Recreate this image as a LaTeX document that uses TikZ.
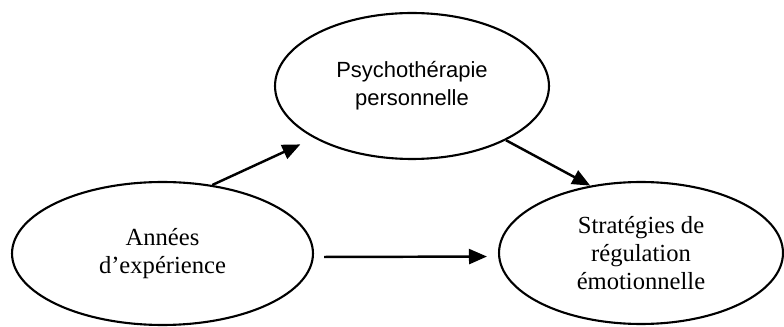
\documentclass[tikz,border=0pt]{standalone}
\usepackage{fontspec}
\setmainfont{Liberation Serif}
\newfontfamily\psyfont{Liberation Sans}
\usetikzlibrary{shapes.geometric,arrows.meta}
\begin{document}
\begin{tikzpicture}[x=0.02cm,y=-0.02cm,
    var/.style={ellipse,draw,line width=1.2pt,inner sep=0pt,align=center,
      font=\fontsize{14}{16}\selectfont},
    link/.style={line width=1.4pt,-{Triangle[length=0.36cm,width=0.3cm]}}]
  \useasboundingbox (0,0) rectangle (784,327);
  % variables
  \node[var,minimum width=6.02cm,minimum height=2.86cm] (exp) at (162.5,253.5)
    {Années\\d’expérience};
  \node[var,minimum width=5.48cm,minimum height=2.92cm,
    font=\psyfont\fontsize{12.5}{16}\selectfont] (psy) at (412,86)
    {Psychothérapie\\personnelle};
  \node[var,minimum width=5.68cm,minimum height=2.84cm] (reg) at (641,253)
    {Stratégies de\\régulation\\émotionnelle};
  % paths
  \draw[link,shorten >=0.3cm] (exp.54) -- (psy.208);
  \draw[link] (psy.330) -- (reg.127);
  \draw[link,shorten <=0.2cm,shorten >=0.22cm] ([yshift=-2]exp.east) -- ([yshift=-2]reg.west);
\end{tikzpicture}
\end{document}
